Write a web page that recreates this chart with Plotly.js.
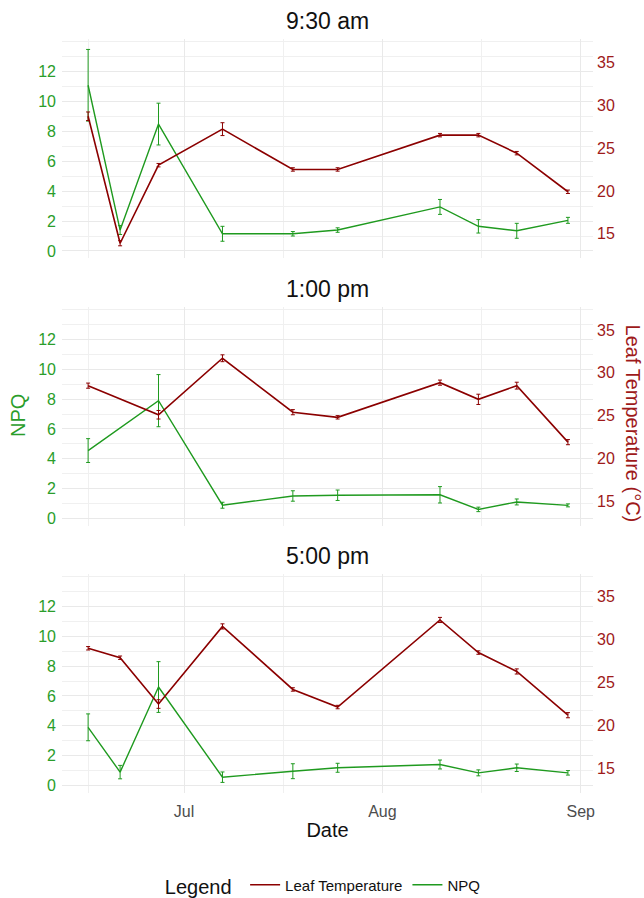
<!DOCTYPE html>
<html>
<head>
<meta charset="utf-8">
<script src="https://cdn.plot.ly/plotly-3.0.1.min.js"></script>
<style>body{margin:0;padding:0;background:#fff}#chart{width:644px;height:898px}</style>
</head>
<body>
<div id="chart"></div>
<script>
// ---- Data ----
const panelTitles = ["9:30 am", "1:00 pm", "5:00 pm"];

const dates930 = ["2022-06-16","2022-06-21","2022-06-27","2022-07-07","2022-07-18","2022-07-25","2022-08-10","2022-08-16","2022-08-22","2022-08-30"];
const npq930 = [11.1, 1.4, 8.5, 1.15, 1.15, 1.4, 2.95, 1.65, 1.35, 2.05];
const npqErr930 = [2.4, 0.3, 1.4, 0.5, 0.15, 0.15, 0.5, 0.45, 0.5, 0.2];
const temp930 = [28.7, 13.9, 23.0, 27.2, 22.5, 22.5, 26.5, 26.5, 24.4, 19.9];
const tempErr930 = [0.5, 0.3, 0.2, 0.75, 0.2, 0.2, 0.2, 0.2, 0.2, 0.2];

const dates100 = ["2022-06-16","2022-06-27","2022-07-07","2022-07-18","2022-07-25","2022-08-10","2022-08-16","2022-08-22","2022-08-30"];
const npq100 = [4.55, 7.9, 0.88, 1.5, 1.55, 1.58, 0.6, 1.1, 0.87];
const npqErr100 = [0.8, 1.75, 0.2, 0.35, 0.35, 0.55, 0.15, 0.2, 0.1];
const temp100 = [28.5, 25.1, 31.7, 25.4, 24.8, 28.85, 26.9, 28.5, 21.9];
const tempErr100 = [0.3, 0.5, 0.4, 0.3, 0.2, 0.3, 0.6, 0.4, 0.3];

const dates500 = ["2022-06-16","2022-06-21","2022-06-27","2022-07-07","2022-07-18","2022-07-25","2022-08-10","2022-08-16","2022-08-22","2022-08-30"];
const npq500 = [3.9, 0.9, 6.6, 0.56, 0.96, 1.19, 1.41, 0.85, 1.19, 0.85];
const npqErr500 = [0.9, 0.45, 1.7, 0.35, 0.5, 0.3, 0.3, 0.2, 0.25, 0.15];
const temp500 = [29.0, 27.9, 22.5, 31.55, 24.2, 22.15, 32.3, 28.5, 26.3, 21.2];
const tempErr500 = [0.2, 0.2, 0.5, 0.3, 0.2, 0.2, 0.3, 0.2, 0.3, 0.3];

const npqTicks = [0, 2, 4, 6, 8, 10, 12];
const npqMinor = [1, 3, 5, 7, 9, 11, 13, 14];
const tempTicks = [15, 20, 25, 30, 35];
const monthTicks = ["2022-07-01", "2022-08-01", "2022-09-01"];
const monthLabels = ["Jul", "Aug", "Sep"];
const midMonth = ["2022-06-16", "2022-07-16 12:00", "2022-08-16 12:00"];

// ---- Styles ----
const GREEN = "#1f9a1f";
const GREEN_TXT = "#2a9d2a";
const RED = "#8b0000";
const RED_TXT = "#9e1a1a";
const GRID = "#e9e9e9";
const GRID_MINOR = "#f0f0f0";

const npqRange = [-0.5, 14.2];
// secondary axis is a linear transform of NPQ axis
const tempRange = [13 + 1.74 * npqRange[0], 13 + 1.74 * npqRange[1]];
const xRange = ["2022-06-11 22:00", "2022-09-02 22:00"];

const panels = [
  {d: dates930, n: npq930, ne: npqErr930, t: temp930, te: tempErr930, dom: [0.709, 1.0]},
  {d: dates100, n: npq100, ne: npqErr100, t: temp100, te: tempErr100, dom: [0.3544, 0.6448]},
  {d: dates500, n: npq500, ne: npqErr500, t: temp500, te: tempErr500, dom: [0.0, 0.291]}
];

const traces = [];
const layout = {
  width: 644, height: 898,
  margin: {l: 62, r: 51, t: 39, b: 105, autoexpand: false},
  paper_bgcolor: "#fff", plot_bgcolor: "rgba(0,0,0,0)",
  font: {family: "Liberation Sans, Arial, sans-serif", color: "#222"},
  showlegend: true,
  legend: {
    orientation: "h", x: 0.494, xanchor: "center", y: -0.124, yanchor: "middle",
    title: {text: "Legend ", font: {size: 20, color: "#111"}, side: "left"},
    font: {size: 15, color: "#111"}, itemwidth: 30, tracegroupgap: 0
  },
  annotations: [],
};

panels.forEach((p, i) => {
  const k = i + 1;
  const xn = k === 1 ? "x" : "x" + k;
  const yl = i * 2 + 1, yr = i * 2 + 2;
  const yln = yl === 1 ? "y" : "y" + yl;
  const yrn = "y" + yr;
  traces.push({
    type: "scatter", mode: "lines", x: p.d, y: p.t, xaxis: xn, yaxis: yrn,
    name: "Leaf Temperature", legendgroup: "temp", showlegend: i === 0,
    line: {color: RED, width: 1.6},
    error_y: {type: "data", array: p.te, visible: true, color: RED, thickness: 1, width: 2}
  });
  traces.push({
    type: "scatter", mode: "lines", x: p.d, y: p.n, xaxis: xn, yaxis: yln,
    name: "NPQ", legendgroup: "npq", showlegend: i === 0,
    line: {color: GREEN, width: 1.4},
    error_y: {type: "data", array: p.ne, visible: true, color: GREEN, thickness: 1, width: 2}
  });

  const xKey = k === 1 ? "xaxis" : "xaxis" + k;
  layout[xKey] = {
    type: "date", range: xRange, anchor: yln, domain: [0, 1],
    tickmode: "array", tickvals: monthTicks, ticktext: monthLabels,
    showticklabels: i === 2, ticks: "", tickfont: {size: 16, color: "#4d4d4d"},
    ticklabelstandoff: 7,
    showgrid: true, gridcolor: GRID, gridwidth: 1, zeroline: false, showline: false,
    minor: {tickmode: "array", tickvals: midMonth, showgrid: true, gridcolor: GRID_MINOR, gridwidth: 1}
  };
  if (i === 2) {
    layout[xKey].title = {text: "Date", font: {size: 20, color: "#111"}, standoff: 3};
  }
  const ylKey = yl === 1 ? "yaxis" : "yaxis" + yl;
  layout[ylKey] = {
    domain: p.dom, anchor: xn, range: npqRange,
    tickmode: "array", tickvals: npqTicks, ticks: "",
    tickfont: {size: 16, color: GREEN_TXT}, ticklabelstandoff: 5,
    showgrid: true, gridcolor: GRID, gridwidth: 1, zeroline: false, showline: false,
    minor: {tickmode: "array", tickvals: npqMinor, showgrid: true, gridcolor: GRID_MINOR, gridwidth: 1}
  };
  layout["yaxis" + yr] = {
    overlaying: yln, side: "right", anchor: xn, range: tempRange,
    tickmode: "array", tickvals: tempTicks, ticks: "", ticklabelstandoff: 3,
    tickfont: {size: 16, color: RED_TXT}, showgrid: false, zeroline: false, showline: false
  };
  layout.annotations.push({
    text: panelTitles[i], xref: "paper", yref: "paper", x: 0.5, y: p.dom[1],
    xanchor: "center", yanchor: "bottom", yshift: 3, showarrow: false,
    font: {size: 23, color: "#111"}
  });
});

layout.annotations.push({
  text: "NPQ", xref: "paper", yref: "paper", x: 0, xshift: -44, y: 0.5,
  textangle: -90, showarrow: false, xanchor: "center", yanchor: "middle",
  font: {size: 20, color: GREEN_TXT}
});
layout.annotations.push({
  text: "Leaf Temperature (°C)", xref: "paper", yref: "paper", x: 1, xshift: 40, y: 0.49,
  textangle: 90, showarrow: false, xanchor: "center", yanchor: "middle",
  font: {size: 20, color: RED_TXT}
});

Plotly.newPlot("chart", traces, layout, {displayModeBar: false, staticPlot: true});
</script>
</body>
</html>
